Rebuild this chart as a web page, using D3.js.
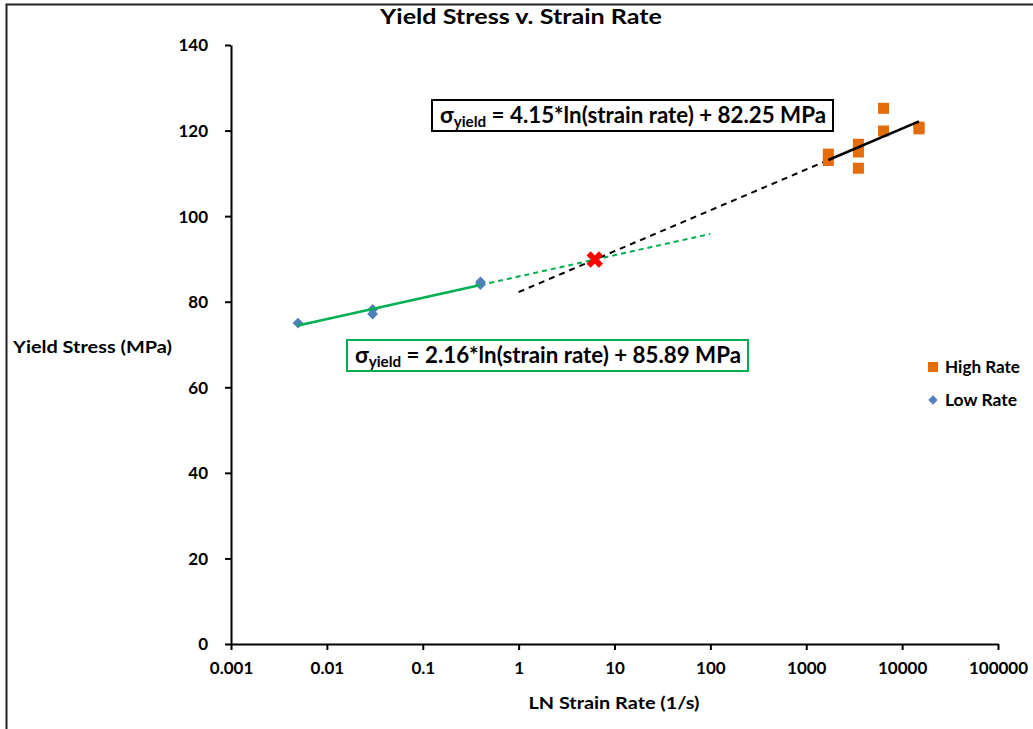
<!DOCTYPE html>
<html>
<head>
<meta charset="utf-8">
<script src="https://cdn.jsdelivr.net/npm/d3@7"></script>
<style>
  body { margin: 0; background: #fff; }
  svg { display: block; font-family: Lato, 'Open Sans', sans-serif; font-weight: bold; }
</style>
</head>
<body>
<script>
// data
const highRateX = [1700, 1700, 3500, 3500, 3500, 6400, 6400, 15000, 15000]
const highRateY = [113, 114.5, 116.8, 115, 111.2, 125.2, 119.9, 120.8, 120.4]
const lowRateX = [0.005, 0.03, 0.03, 0.4, 0.4]
const lowRateY = [75, 78.2, 77.1, 84.6, 84]
const xTicks = [0.001, 0.01, 0.1, 1, 10, 100, 1000, 10000, 100000]
const yTicks = [0, 20, 40, 60, 80, 100, 120, 140]
const lowFit = { a: 2.16, b: 85.89, solid: [0.005, 0.4], dashed: [0.4, 100] }
const highFit = { a: 4.15, b: 82.25, solid: [1700, 15000], dashed: [1, 1700] }

const width = 1033
const height = 729
const margin = { top: 45, left: 231, right: 35, bottom: 85 }

const x = d3.scaleLog().domain([0.001, 100000]).range([margin.left, width - margin.right])
const y = d3.scaleLinear().domain([0, 140]).range([height - margin.bottom, margin.top])

const svg = d3.select('body').append('svg').attr('width', width).attr('height', height)

// frame
svg.append('path').attr('d', `M6.5,${height} V4.5 H${width}`).attr('fill', 'none').attr('stroke', '#222').attr('stroke-width', 2)

svg.append('text').attr('x', 521).attr('y', 24).attr('text-anchor', 'middle')
  .attr('font-size', 21).attr('textLength', 282).attr('lengthAdjust', 'spacingAndGlyphs')
  .text('Yield Stress v. Strain Rate')

const xAxis = svg.append('g').attr('transform', `translate(0,${y(0)})`)
  .call(d3.axisBottom(x).tickValues(xTicks).tickSize(6).tickSizeOuter(0))
const yAxis = svg.append('g').attr('transform', `translate(${x(0.001)},0)`)
  .call(d3.axisLeft(y).tickValues(yTicks).tickSize(6).tickSizeOuter(0))
for (const ax of [xAxis, yAxis]) {
  ax.select('.domain').attr('stroke', '#000').attr('stroke-width', 2)
  ax.selectAll('.tick line').attr('stroke', '#000').attr('stroke-width', 2)
  ax.selectAll('.tick text').attr('font-size', 17).attr('font-family', 'Lato').attr('font-weight', 'bold').attr('fill', '#000')
}
xAxis.selectAll('.tick text').attr('dy', '1.25em').text((d) => (d >= 1 ? d3.format('d')(d) : String(d)))
yAxis.selectAll('.tick text').attr('x', -23).attr('dy', '0.35em')

svg.append('text').attr('x', 614).attr('y', 709).attr('text-anchor', 'middle').attr('font-size', 17)
  .attr('textLength', 171).attr('lengthAdjust', 'spacingAndGlyphs').text('LN Strain Rate (1/s)')
svg.append('text').attr('x', 13).attr('y', 353).attr('font-size', 17)
  .attr('textLength', 159).attr('lengthAdjust', 'spacingAndGlyphs').text('Yield Stress (MPa)')

// fit lines
const fitLine = (f, [a, b]) => d3.line()([[x(a), y(f.a * Math.log(a) + f.b)], [x(b), y(f.a * Math.log(b) + f.b)]])
svg.append('path').attr('d', fitLine(lowFit, lowFit.dashed)).attr('stroke', '#00b050').attr('stroke-width', 2).attr('stroke-dasharray', '5,4').attr('fill', 'none')
svg.append('path').attr('d', fitLine(highFit, highFit.dashed)).attr('stroke', '#000').attr('stroke-width', 2).attr('stroke-dasharray', '6,5').attr('fill', 'none')

// points
const diamond = d3.symbol().type(d3.symbolDiamond2).size(75)
svg.append('g').selectAll('path').data(lowRateX).join('path')
  .attr('transform', (d, i) => `translate(${x(d)},${y(lowRateY[i])})`)
  .attr('d', diamond).attr('fill', '#4f81bd')
svg.append('g').selectAll('rect').data(highRateX).join('rect')
  .attr('x', (d) => x(d) - 5.5).attr('y', (d, i) => y(highRateY[i]) - 5.5)
  .attr('width', 11).attr('height', 11).attr('fill', '#e46c0a')

svg.append('path').attr('d', fitLine(lowFit, lowFit.solid)).attr('stroke', '#00b050').attr('stroke-width', 2.5).attr('fill', 'none')
svg.append('path').attr('d', fitLine(highFit, highFit.solid)).attr('stroke', '#000').attr('stroke-width', 2.5).attr('fill', 'none')

// intersection of the two fits
const xi = Math.exp((lowFit.b - highFit.b) / (highFit.a - lowFit.a))
const yi = lowFit.a * Math.log(xi) + lowFit.b
svg.append('path').attr('transform', `translate(${x(xi)},${y(yi)}) rotate(45)`)
  .attr('d', d3.symbol().type(d3.symbolCross).size(170)).attr('fill', '#ff0000')

// equation boxes
const eqBox = (bx, by, color, f) => {
  const g = svg.append('g')
  g.append('rect').attr('x', bx).attr('y', by).attr('width', 401).attr('height', 31)
    .attr('fill', '#fff').attr('stroke', color).attr('stroke-width', 2)
  const t = g.append('text').attr('x', bx + 8).attr('y', by + 23).attr('font-size', 22)
    .attr('textLength', 386).attr('lengthAdjust', 'spacingAndGlyphs')
  t.append('tspan').text('σ')
  t.append('tspan').attr('font-size', 15).attr('dy', 4).text('yield')
  t.append('tspan').attr('dy', -4).text(` = ${f.a.toFixed(2)}*ln(strain rate) + ${f.b.toFixed(2)} MPa`)
}
eqBox(432, 100, '#000', highFit)
eqBox(347, 340, '#00b050', lowFit)

// legend
svg.append('rect').attr('x', 928).attr('y', 362).attr('width', 10).attr('height', 10).attr('fill', '#e46c0a')
svg.append('text').attr('x', 945).attr('y', 373).attr('font-size', 17)
  .attr('textLength', 75).attr('lengthAdjust', 'spacingAndGlyphs').text('High Rate')
svg.append('path').attr('transform', 'translate(933,400)').attr('d', d3.symbol().type(d3.symbolDiamond2).size(55)).attr('fill', '#4f81bd')
svg.append('text').attr('x', 945).attr('y', 406).attr('font-size', 17)
  .attr('textLength', 72).attr('lengthAdjust', 'spacingAndGlyphs').text('Low Rate')
</script>
</body>
</html>
